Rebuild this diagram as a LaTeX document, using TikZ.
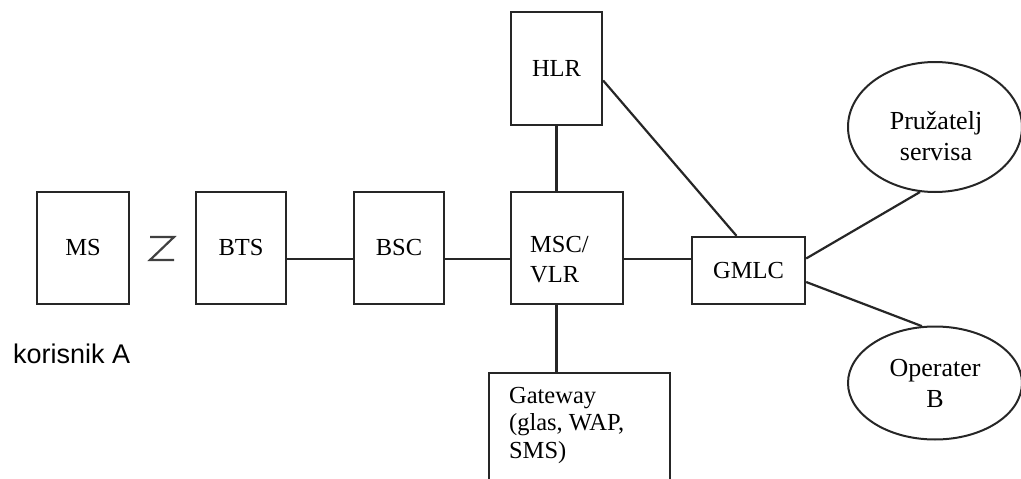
\documentclass[tikz,border=0pt]{standalone}
\usepackage{fontspec}
\setmainfont{Liberation Serif}
\newfontfamily\sansfont{Liberation Sans}
\usetikzlibrary{shapes.geometric}

\begin{document}
\begin{tikzpicture}[x=1pt,y=-1pt, inner sep=0pt, line width=2.2pt, draw=black!85,
  blok/.style={rectangle,draw=black!85,line width=2.3pt,font=\fontsize{24.5}{30}\selectfont},
  elipsa/.style={ellipse,draw=black!85,line width=2pt},
  tekst/.style={align=center,font=\fontsize{26}{31}\selectfont}]
\useasboundingbox (0,0) rectangle (1021,479);
\node (ms) at (83,248) [blok,minimum width=92pt,minimum height=112pt] {MS};
\node (bts) at (241,248) [blok,minimum width=90pt,minimum height=112pt] {BTS};
\node (bsc) at (399,248) [blok,minimum width=90pt,minimum height=112pt] {BSC};
\node (msc) at (567,248) [blok,minimum width=112pt,minimum height=112pt] {};
\node (msctext) at (529,260) [anchor=west,align=left,font=\fontsize{24.5}{30}\selectfont] {MSC/\\VLR};
\node (hlr) at (556.5,68.5) [blok,minimum width=91pt,minimum height=113pt] {HLR};
\node (gmlc) at (748.5,270.5) [blok,minimum width=113pt,minimum height=67pt] {GMLC};
\node (gw) at (488,372) [blok,anchor=north west,minimum width=181pt,minimum height=140pt] {};
\node (gwtext) at (508,386) [anchor=north west,align=left,font=\fontsize{24.5}{27.5}\selectfont] {Gateway\\(glas, WAP,\\SMS)};
\node (pz) at (935,127) [elipsa,minimum width=174pt,minimum height=130pt] {};
\node (pztext) at (936,136) [tekst] {Pružatelj\\servisa};
\node (op) at (935,383) [elipsa,minimum width=174pt,minimum height=113pt] {};
\node (optext) at (935,383) [tekst] {Operater\\B};
\node (kor) at (12,363) [anchor=base west,font=\sansfont\fontsize{27}{32}\selectfont] {korisnik A};
\draw[black!75] (150,237) -- (174,237) -- (150,260) -- (174,260);
\draw ([yshift=-11pt]bts.east) -- ([yshift=-11pt]bsc.west);
\draw ([yshift=-11pt]bsc.east) -- ([yshift=-11pt]msc.west);
\draw ([yshift=-11pt]msc.east) -- ([yshift=-11pt]msc.east -| gmlc.west);
\draw (hlr.south) -- (hlr.south |- msc.north);
\draw (hlr.south |- msc.south) -- (hlr.south |- gw.north);
\draw ([yshift=-12pt]hlr.east) -- ([xshift=-12pt]gmlc.north);
\draw ([yshift=12pt]gmlc.east) -- (pz.-103);
\draw ([yshift=-11.5pt]gmlc.east) -- (op.103);
\end{tikzpicture}
\end{document}
